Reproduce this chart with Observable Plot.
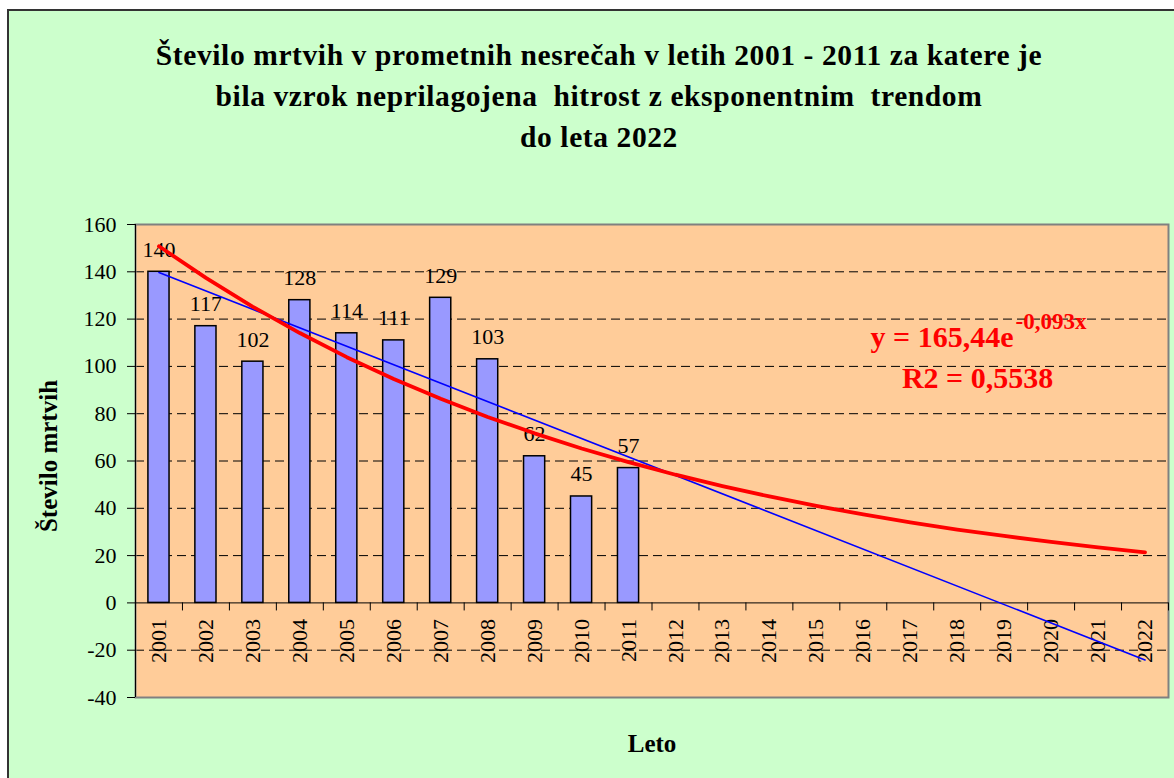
<!DOCTYPE html>
<html>
<head>
<meta charset="utf-8">
<script src="https://cdn.jsdelivr.net/npm/d3@7"></script>
<script src="https://cdn.jsdelivr.net/npm/@observablehq/plot@0.6"></script>
<style>
  html, body { margin: 0; padding: 0; background: #ffffff; overflow: hidden; width: 1174px; height: 778px; }
  #bg { position: absolute; left: 7px; top: 9px; width: 1190px; height: 800px; background: #CCFFCC; border-left: 2px solid #333; border-top: 2px solid #333; box-sizing: border-box; }
  #title { position: absolute; left: 9px; width: 1180px; top: 35px; text-align: center; font-family: "Liberation Serif", serif; font-weight: bold; font-size: 29.5px; line-height: 41px; color: #000; letter-spacing: 0.6px; white-space: pre; }
  #chart { position: absolute; left: 0; top: 180px; }
</style>
</head>
<body>
<div id="bg"></div>
<div id="title"></div>
<div id="chart"></div>
<script>
const titleLines = [
  "Število mrtvih v prometnih nesrečah v letih 2001 - 2011 za katere je",
  "bila vzrok neprilagojena  hitrost z eksponentnim  trendom",
  "do leta 2022"
];
const years = ["2001","2002","2003","2004","2005","2006","2007","2008","2009","2010","2011",
               "2012","2013","2014","2015","2016","2017","2018","2019","2020","2021","2022"];
const dataYears = ["2001","2002","2003","2004","2005","2006","2007","2008","2009","2010","2011"];
const deaths = [140, 117, 102, 128, 114, 111, 129, 103, 62, 45, 57];
const expTrend = [150.8, 137.4, 125.2, 114.1, 103.9, 94.7, 86.3, 78.6, 71.7, 65.3, 59.5,
                  54.2, 49.4, 45.0, 41.0, 37.4, 34.1, 31.0, 28.3, 25.8, 23.5, 21.4];
const linTrendYears = ["2001", "2022"];
const linTrendValues = [139.7, -24.1];
const yTicks = [-40, -20, 0, 20, 40, 60, 80, 100, 120, 140, 160];
const gridValues = [-20, 20, 40, 60, 80, 100, 120, 140];
const yLabel = "Število mrtvih";
const xLabel = "Leto";
const eqMain = "y = 165,44e";
const eqExp = "-0,093x";
const eqR2 = "R2 = 0,5538";

const titleEl = document.getElementById("title");
titleLines.forEach((t, i) => {
  if (i) titleEl.appendChild(document.createElement("br"));
  titleEl.appendChild(document.createTextNode(t));
});

const bars = dataYears.map((y, i) => ({year: y, value: deaths[i]}));
const expData = years.map((y, i) => ({year: y, value: expTrend[i]}));
const linData = linTrendYears.map((y, i) => ({year: y, value: linTrendValues[i]}));

const W = 1174, H = 598, ML = 135, MR = 6, MT = 44, MB = 81;
const step = (W - ML - MR) / years.length;
const red = "#FF0000", blue = "#0000FF";

const chart = Plot.plot({
  width: W, height: H,
  marginLeft: ML, marginRight: MR, marginTop: MT, marginBottom: MB,
  style: { background: "transparent", fontFamily: "Liberation Serif, serif", fontSize: "22px", color: "#000" },
  x: { type: "band", domain: years, paddingInner: 0.55, paddingOuter: 0.275, round: false, axis: null },
  y: { domain: [-40, 160], axis: null },
  marks: [
    Plot.frame({ fill: "#FFCC99", stroke: null }),
    Plot.ruleY(gridValues, { stroke: "#000", strokeWidth: 1, strokeDasharray: "9,5" }),
    Plot.barY(bars, { x: "year", y: "value", fill: "#9999FF", stroke: "#000", strokeWidth: 1.5 }),
    Plot.frame({ stroke: "#808080", strokeWidth: 2 }),
    Plot.ruleY([0], { stroke: "#000", strokeWidth: 1 }),
    Plot.ruleX([years[0]], { x: d => d, dx: -step / 2, y1: -40, y2: 160, stroke: "#000", strokeWidth: 1 }),
    Plot.ruleX(years, { x: d => d, dx: step / 2, y1: 0, y2: -3.4, stroke: "#000", strokeWidth: 1 }),
    Plot.axisY({ ticks: yTicks, tickFormat: d => String(d), tickSize: 8, tickPadding: 11, fontSize: 22, label: null, stroke: "#000", strokeOpacity: 1 }),
    Plot.text(years, { x: d => d, y: 0, text: d => d, rotate: -90, textAnchor: "end", lineAnchor: "middle", dy: 16, fontSize: 22, fill: "#000" }),
    Plot.text(bars, { x: "year", y: "value", text: d => String(d.value), lineAnchor: "bottom", dy: -15, fontSize: 22, fill: "#000" }),
    Plot.line(linData, { x: "year", y: "value", stroke: blue, strokeWidth: 1.6 }),
    Plot.line(expData, { x: "year", y: "value", stroke: red, strokeWidth: 3.8 }),
    Plot.text([yLabel], { frameAnchor: "left", rotate: -90, textAnchor: "middle", lineAnchor: "middle", dx: -87, dy: -5, fontWeight: "bold", fontSize: 25, fill: "#000" }),
    Plot.text([xLabel], { frameAnchor: "bottom", textAnchor: "middle", lineAnchor: "middle", dy: 46, fontWeight: "bold", fontSize: 25, fill: "#000" }),
    Plot.text([eqMain], { frameAnchor: "top-right", textAnchor: "end", lineAnchor: "middle", dx: -155, dy: 113, fontWeight: "bold", fontSize: 30, fill: red }),
    Plot.text([eqExp], { frameAnchor: "top-right", textAnchor: "start", lineAnchor: "middle", dx: -153, dy: 97, fontWeight: "bold", fontSize: 23, fill: red }),
    Plot.text([eqR2], { frameAnchor: "top-right", textAnchor: "middle", lineAnchor: "middle", dx: -191, dy: 154, fontWeight: "bold", fontSize: 30, fill: red })
  ]
});
document.getElementById("chart").appendChild(chart);
</script>
</body>
</html>
